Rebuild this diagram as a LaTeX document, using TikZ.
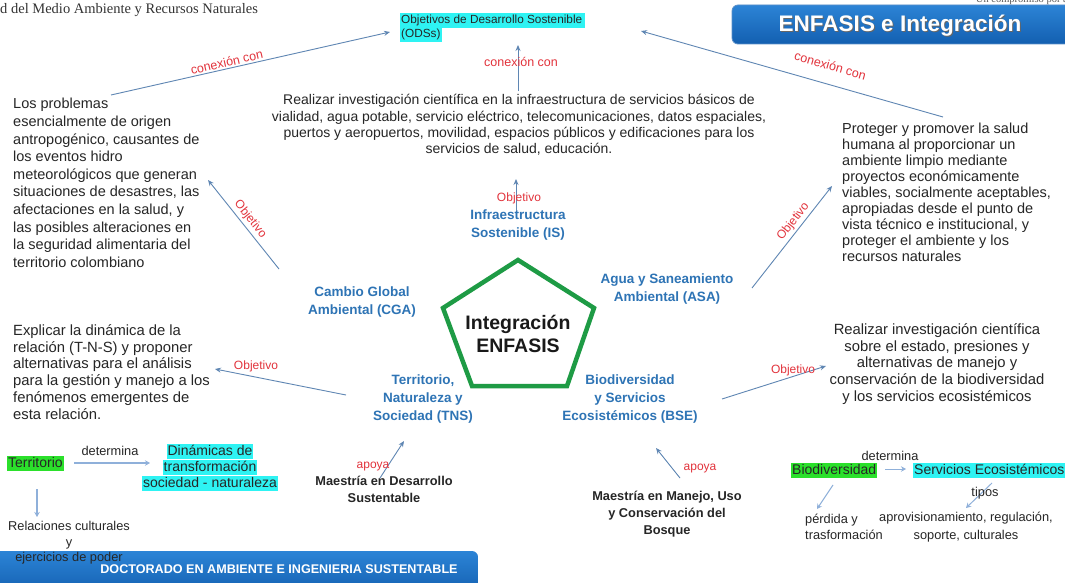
\documentclass[tikz,border=0pt]{standalone}
\usepackage{fontspec}
\setmainfont{Liberation Sans}
\newfontfamily\seriffont{Liberation Serif}
\usetikzlibrary{arrows.meta}
\definecolor{lblblue}{HTML}{2E74B5}
\definecolor{lblred}{HTML}{E2333C}
\definecolor{arrblue}{HTML}{5F86B3}
\definecolor{lightarr}{HTML}{8FB0DA}
\definecolor{hlgreen}{HTML}{2BE02B}
\definecolor{hlcyan}{HTML}{2EF3F3}
\definecolor{bantop}{HTML}{2C84D6}
\definecolor{banbot}{HTML}{135FB0}
\definecolor{pentgreen}{HTML}{1E9B45}
\definecolor{txt}{HTML}{262626}
\tikzset{
  para/.style={inner sep=0pt, text=txt, align=left, font=\fontsize{14.5}{17.6}\selectfont},
  enf/.style={inner sep=0pt, align=center, text=lblblue, font=\bfseries\fontsize{13.5}{18}\selectfont},
  rel/.style={inner sep=0.5pt, text=lblred, font=\fontsize{12}{14}\selectfont},
  conn/.style={draw=arrblue, line width=0.9pt, -{Stealth[length=6pt,width=5pt]}},
  lconn/.style={draw=lightarr, line width=1.5pt, -{Stealth[length=5pt,width=5.5pt]}},
  hlg/.style={inner sep=1pt, fill=hlgreen, text=txt, font=\fontsize{14}{16}\selectfont, text height=10.5pt, text depth=3.2pt},
  hlc/.style={inner sep=1pt, fill=hlcyan, text=txt, font=\fontsize{14}{16}\selectfont, text height=10.5pt, text depth=3.2pt},
  mst/.style={inner sep=0pt, align=center, text=txt, font=\bfseries\fontsize{12.8}{17}\selectfont},
  small/.style={inner sep=0pt, text=txt, font=\fontsize{12.8}{15}\selectfont},
}
\begin{document}
\begin{tikzpicture}[x=1pt,y=-1pt]
\useasboundingbox (0,0) rectangle (1065,583);
\clip (0,0) rectangle (1065,583);
\fill[white] (0,0) rectangle (1065,583);

% header texts
\node[anchor=west, inner sep=0, text=black!80, font=\seriffont\fontsize{14.5}{16}\selectfont] (hdr) at (0,10) {d del Medio Ambiente y Recursos Naturales};
\node[anchor=base east, inner sep=0, text=black!65, font=\seriffont\fontsize{10.5}{11}\selectfont] (hdrR) at (1068,3) {Un compromiso por a};

% top-right banner
\shade[top color=bantop, bottom color=banbot, rounded corners=6pt, draw=banbot!70!white, line width=0.8pt] (732,5) rectangle (1080,44);
\node[text=black!60, font=\bfseries\fontsize{22.5}{25}\selectfont, inner sep=0] at (901,27) {ENFASIS e Integración};
\node[text=white, font=\bfseries\fontsize{22.5}{25}\selectfont, inner sep=0] (ban) at (900,26) {ENFASIS e Integración};

% ODS
\node[hlc, anchor=base west, font=\fontsize{11.8}{14}\selectfont, text height=9.5pt, text depth=3pt] (ods1) at (400,24) {Objetivos de Desarrollo Sostenible\,};
\node[hlc, anchor=base west, font=\fontsize{11.8}{14}\selectfont, text height=9.5pt, text depth=3pt] (ods2) at (400,38) {(ODSs)};
\coordinate (odsL) at (390,32);
\coordinate (odsR) at (641,31);
\coordinate (odsB) at (518,45);

% center paragraph (IS objective)
\node[para, align=center, font=\fontsize{14}{16.2}\selectfont] (ispara) at (519,125) {Realizar investigación científica en la infraestructura de servicios básicos de\\vialidad, agua potable, servicio eléctrico, telecomunicaciones, datos espaciales,\\puertos y aeropuertos, movilidad, espacios públicos y edificaciones para los\\servicios de salud, educación.};
\coordinate (isparaTop) at (518,91);
\coordinate (isparaBot) at (516,179);

% left paragraph (CGA objective)
\node[para, anchor=west] (cgapara) at (13,183) {Los problemas\\esencialmente de origen\\antropogénico, causantes de\\los eventos hidro\\meteorológicos que generan\\situaciones de desastres, las\\afectaciones en la salud, y\\las posibles alteraciones en\\la seguridad alimentaria del\\territorio colombiano};
\coordinate (cgaparaTop) at (111,95);
\coordinate (cgaparaR) at (208,180);

% right paragraph (ASA objective)
\node[para, anchor=west, font=\fontsize{14.5}{16}\selectfont] (asapara) at (842,192) {Proteger y promover la salud\\humana al proporcionar un\\ambiente limpio mediante\\proyectos económicamente\\viables, socialmente aceptables,\\apropiadas desde el punto de\\vista técnico e institucional, y\\proteger el ambiente y los\\recursos naturales};
\coordinate (asaparaTop) at (943,117);
\coordinate (asaparaL) at (832,186);

% TNS objective paragraph
\node[para, anchor=west, font=\fontsize{14.8}{16.8}\selectfont] (tnspara) at (13,372) {Explicar la dinámica de la\\relación (T-N-S) y proponer\\alternativas para el análisis\\para la gestión y manejo a los\\fenómenos emergentes de\\esta relación.};
\coordinate (tnsparaR) at (215,369);

% BSE objective paragraph
\node[para, align=center, font=\fontsize{14.8}{16.8}\selectfont] (bsepara) at (937,364) {Realizar investigación científica\\sobre el estado, presiones y\\alternativas de manejo y\\conservación de la biodiversidad\\y los servicios ecosistémicos};
\coordinate (bseparaL) at (826,366);

% connections to ODS
\draw[conn] (cgaparaTop) -- node[rel, sloped, above=1pt, pos=0.42, font=\fontsize{12.5}{14}\selectfont] {conexión con} (odsL);
\draw[conn] (asaparaTop) -- node[rel, sloped, above=13pt, pos=0.39, font=\fontsize{12.5}{14}\selectfont] {conexión con} (odsR);
\draw[conn] (isparaTop) -- (odsB);
\node[rel, font=\fontsize{12.5}{14}\selectfont] (lconc) at (521,62) {conexión con};

% pentagon
\draw[pentgreen, line width=4.5pt, line join=miter] (518,260) -- (594,308) -- (567,386) -- (472,386) -- (443,308) -- cycle;
\node[inner sep=0, align=center, text=black!90, font=\bfseries\fontsize{19.5}{23.5}\selectfont] (integ) at (518,334) {Integración\\ENFASIS};

% emphasis labels
\node[enf] (is) at (518,225) {Infraestructura\\Sostenible (IS)};
\node[enf] (cga) at (362,302) {Cambio Global\\Ambiental (CGA)};
\node[enf] (asa) at (667,289) {Agua y Saneamiento\\Ambiental (ASA)};
\node[enf] (tns) at (423,399) {Territorio,\\Naturaleza y\\Sociedad (TNS)};
\node[enf] (bse) at (630,399) {Biodiversidad\\y Servicios\\Ecosistémicos (BSE)};
\coordinate (isT) at (516,211);
\coordinate (cgaT) at (279,269);
\coordinate (asaT) at (752,288);
\coordinate (tnsT) at (346,395);
\coordinate (bseT) at (722,399);

% objective arrows
\draw[conn] (isT) -- (isparaBot);
\node[rel] (lobjis) at (519,198) {Objetivo};
\draw[conn] (cgaT) -- node[rel, sloped, above=2pt, pos=0.5] {Objetivo} (cgaparaR);
\draw[conn] (asaT) -- node[rel, sloped, above=2pt, pos=0.6] {Objetivo} (asaparaL);
\draw[conn] (tnsT) -- (tnsparaR);
\node[rel] (lobjtns) at (256,366) {Objetivo};
\draw[conn] (bseT) -- (bseparaL);
\node[rel] (lobjbse) at (793,370) {Objetivo};

% Maestrias
\node[mst] (mds) at (384,489) {Maestría en Desarrollo\\Sustentable};
\node[mst] (mmb) at (667,514) {Maestría en Manejo, Uso\\y Conservación del\\Bosque};
\coordinate (mdsT) at (380,478);
\coordinate (tnsB) at (404,441);
\coordinate (mmbT) at (680,478);
\coordinate (bseB) at (656,448);
\draw[conn] (mdsT) -- (tnsB);
\node[rel] (apoya1) at (373,467) {apoya};
\draw[conn] (mmbT) -- (bseB);
\node[rel] (apoya2) at (700,469) {apoya};

% bottom banner
\shade[top color=bantop, bottom color=banbot, rounded corners=6pt] (-10,551) rectangle (478,595);
\node[text=white, font=\bfseries\fontsize{12.6}{14}\selectfont, inner sep=0] (doc) at (279,569) {DOCTORADO EN AMBIENTE E INGENIERIA SUSTENTABLE};

% bottom-left: Territorio
\node[hlg, anchor=base west] (terr) at (7,467) {Territorio};
\node[small] (det1) at (110,451) {determina};
\node[hlc, anchor=base] (din1) at (210,455) {Dinámicas de};
\node[hlc, anchor=base] (din2) at (210,471) {transformación};
\node[hlc, anchor=base] (din3) at (210,487) {sociedad - naturaleza};
\coordinate (terrR) at (74,463);
\coordinate (dinL) at (150,463);
\draw[lconn] (terrR) -- (dinL);
\coordinate (terrB) at (37,489);
\coordinate (relT) at (37,517);
\draw[lconn] (terrB) -- (relT);
\node[small, align=center, font=\fontsize{12.8}{15.5}\selectfont] (rel) at (69,543) {Relaciones culturales\\y\\ejercicios de poder};

% bottom-right: Biodiversidad
\node[hlg, anchor=base west] (bio) at (791,474) {Biodiversidad};
\node[small] (det2) at (890,456) {determina};
\node[hlc, anchor=base west] (sev) at (913,474) {Servicios Ecosistémicos};
\coordinate (bioR) at (885,469);
\coordinate (sevL) at (906,469);
\draw[lconn, line width=1pt] (bioR) -- (sevL);
\coordinate (bioB) at (833,485);
\coordinate (perT) at (817,509);
\draw[lconn, line width=1pt] (bioB) -- (perT);
\node[small, anchor=west, align=left, font=\fontsize{12.8}{16}\selectfont] (per) at (805,527) {pérdida y\\trasformación};
\coordinate (sevB) at (992,483);
\coordinate (aprT) at (966,508);
\draw[lconn, line width=1pt] (sevB) -- (aprT);
\node[small] (tipos) at (985,493) {tipos};
\node[small, align=center, font=\fontsize{12.8}{18}\selectfont] (apr) at (966,527) {aprovisionamiento, regulación,\\soporte, culturales};
\end{tikzpicture}
\end{document}
